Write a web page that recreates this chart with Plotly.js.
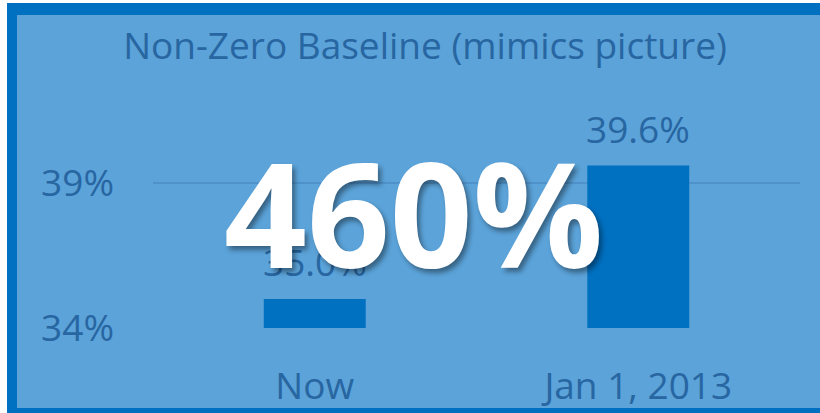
<!DOCTYPE html>
<html>
<head>
<meta charset="utf-8">
<script src="https://cdn.plot.ly/plotly-3.0.1.min.js"></script>
<style>
  html, body { margin: 0; padding: 0; background: #5BA3D9; width: 820px; height: 413px; overflow: hidden; }
  .strip { position: absolute; }
  #whiteLeft { left: 0; top: 0; width: 7px; height: 413px; background: #ffffff; }
  #whiteTop { left: 0; top: 0; width: 820px; height: 3px; background: #ffffff; }
  #blueLeft { left: 7px; top: 3px; width: 10px; height: 410px; background: #0070C0; }
  #blueTop { left: 7px; top: 3px; width: 813px; height: 12px; background: #0070C0; }
  #blueBottom { left: 7px; top: 408px; width: 813px; height: 5px; background: #0070C0; }
  #chart { position: absolute; left: 17px; top: 15px; width: 803px; height: 393px; }
</style>
</head>
<body>
<div id="chart"></div>
<div class="strip" id="whiteLeft"></div>
<div class="strip" id="whiteTop"></div>
<div class="strip" id="blueLeft"></div>
<div class="strip" id="blueTop"></div>
<div class="strip" id="blueBottom"></div>
<script>
// Data
const categories = ["Now", "Jan 1, 2013"];
const values = [35.0, 39.6];
const valueLabels = ["35.0%", "39.6%"];
const yTickVals = [34, 39];
const yTickText = ["34%", "39%"];
const chartTitle = "Non-Zero Baseline (mimics picture)";
const overlayText = "460%";

const bg = "#5BA3D9";
const barColor = "#0070C0";
const textColor = "#2866A2";
const fontFamily = "'Open Sans', 'Noto Sans', sans-serif";

const trace = {
  type: "bar",
  x: categories,
  y: values,
  base: 0,
  marker: { color: barColor },
  width: 0.315,
  hoverinfo: "none"
};

const labelAnns = categories.map((c, i) => ({
  x: c, y: values[i], xref: "x", yref: "y",
  text: valueLabels[i], showarrow: false,
  yanchor: "bottom", yshift: 10,
  font: { family: fontFamily, size: 37, color: textColor }
}));

const layout = {
  width: 803, height: 393,
  margin: { l: 136, r: 20, t: 139, b: 80 },
  paper_bgcolor: bg, plot_bgcolor: bg,
  showlegend: false,
  title: {
    text: chartTitle,
    x: (425 - 17) / 803, xref: "container", xanchor: "center",
    y: 0.922, yref: "container", yanchor: "middle",
    font: { family: fontFamily, size: 37, color: textColor }
  },
  xaxis: {
    type: "category",
    showgrid: false, zeroline: false, showline: false,
    ticks: "", ticklabelstandoff: 33,
    tickfont: { family: fontFamily, size: 37, color: textColor }
  },
  yaxis: {
    range: [34, 40],
    tickvals: yTickVals, ticktext: yTickText,
    showgrid: true, gridcolor: "#4F92CB", gridwidth: 1.5,
    zeroline: false, showline: false,
    ticks: "", ticklabelstandoff: 38,
    tickfont: { family: fontFamily, size: 37, color: textColor }
  },
  annotations: labelAnns.concat([{
    x: 0.402, y: 0.667, xref: "paper", yref: "paper",
    xanchor: "center", yanchor: "middle",
    text: "<b>" + overlayText + "</b>", showarrow: false,
    font: { family: fontFamily, size: 145, color: "#ffffff", weight: 700,
            shadow: "3px 4px 5px rgba(0,0,0,0.4)" }
  }])
};

Plotly.newPlot("chart", [trace], layout, { staticPlot: true, displayModeBar: false });
</script>
</body>
</html>
